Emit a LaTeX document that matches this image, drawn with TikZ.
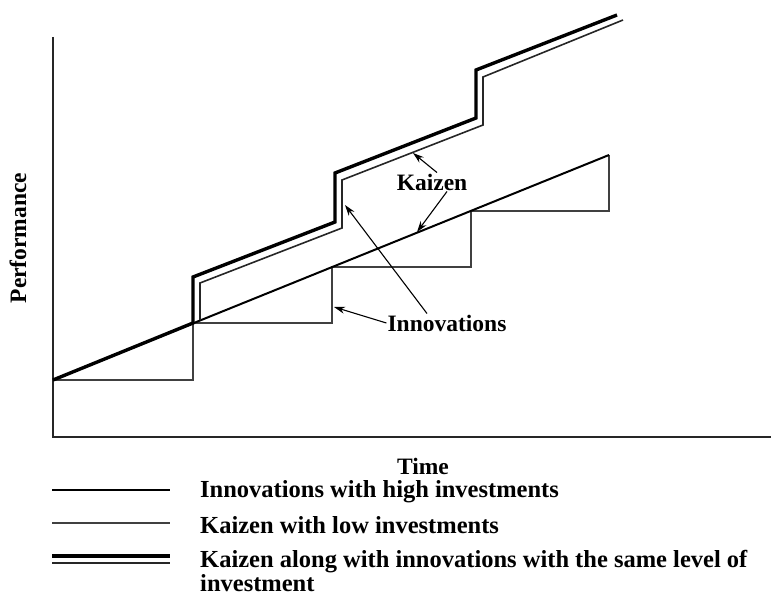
\documentclass[tikz,border=0pt]{standalone}
\usepackage{fontspec}
\setmainfont{Liberation Serif}
\usetikzlibrary{arrows.meta}

\begin{document}
\begin{tikzpicture}[x=1pt, y=-1pt, line join=miter]
  \tikzset{
    axis/.style={line width=1.6pt, black!85},
    innov/.style={line width=1.5pt, black!75},
    kaizen/.style={line width=2pt, black},
    both/.style={line width=3.4pt, black},
    bothin/.style={line width=1.6pt, black!85},
    lbl/.style={font=\fontsize{23.5}{26}\selectfont\bfseries, inner sep=1pt},
    leg/.style={font=\fontsize{24.5}{24}\selectfont\bfseries, inner sep=0pt},
    pointer/.style={-{Stealth[length=11pt,width=7pt]}, line width=1.1pt},
  }
  \useasboundingbox (0,0) rectangle (771,610);
  % axes
  \draw[axis] (53,37) -- (53,437) -- (771,437);
  \node[lbl, rotate=90] (perf) at (18,238) {Performance};
  \node[lbl] (time) at (423,466) {Time};
  % innovations (staircase)
  \draw[innov] (53,380) -- (193,380) -- (193,323) -- (332,323) -- (332,267)
    -- (471,267) -- (471,211) -- (609,211) -- (609,155);
  % kaizen
  \draw[kaizen] (53,380) -- (609,155);
  % kaizen with innovations
  \draw[both] (53,380) -- (193,323) -- (193,277) -- (335,222) -- (335,173)
    -- (476,118) -- (476,70) -- (617,15);
  \draw[bothin] (200,320) -- (200,283) -- (342,228) -- (342,180)
    -- (483,125) -- (483,77) -- (623,20);
  % labels and pointers
  \coordinate (kz1) at (413,153);
  \coordinate (kz2) at (417,232);
  \coordinate (in1) at (334,307);
  \coordinate (in2) at (345,205);
  \node[lbl] (kaizen) at (432,182) {Kaizen};
  \node[lbl] (innovations) at (447,323) {Innovations};
  \draw[pointer] ([xshift=5pt]kaizen.north) -- (kz1);
  \draw[pointer] ([xshift=15pt]kaizen.south) -- (kz2);
  \draw[pointer] (innovations.west) -- (in1);
  \draw[pointer] ([xshift=-20pt]innovations.north) -- (in2);
  % legend
  \draw[kaizen] (52,490) -- (170,490);
  \draw[innov] (52,523) -- (170,523);
  \draw[both] (52,556) -- (170,556);
  \draw[bothin] (52,563) -- (170,563);
  \node[leg, anchor=west] (leg1) at (200,492) {Innovations with high investments};
  \node[leg, anchor=west] (leg2) at (200,525) {Kaizen with low investments};
  \node[leg, anchor=north west, align=left] (leg3) at (200,550)
    {Kaizen along with innovations with the same level of\\investment};
\end{tikzpicture}
\end{document}
